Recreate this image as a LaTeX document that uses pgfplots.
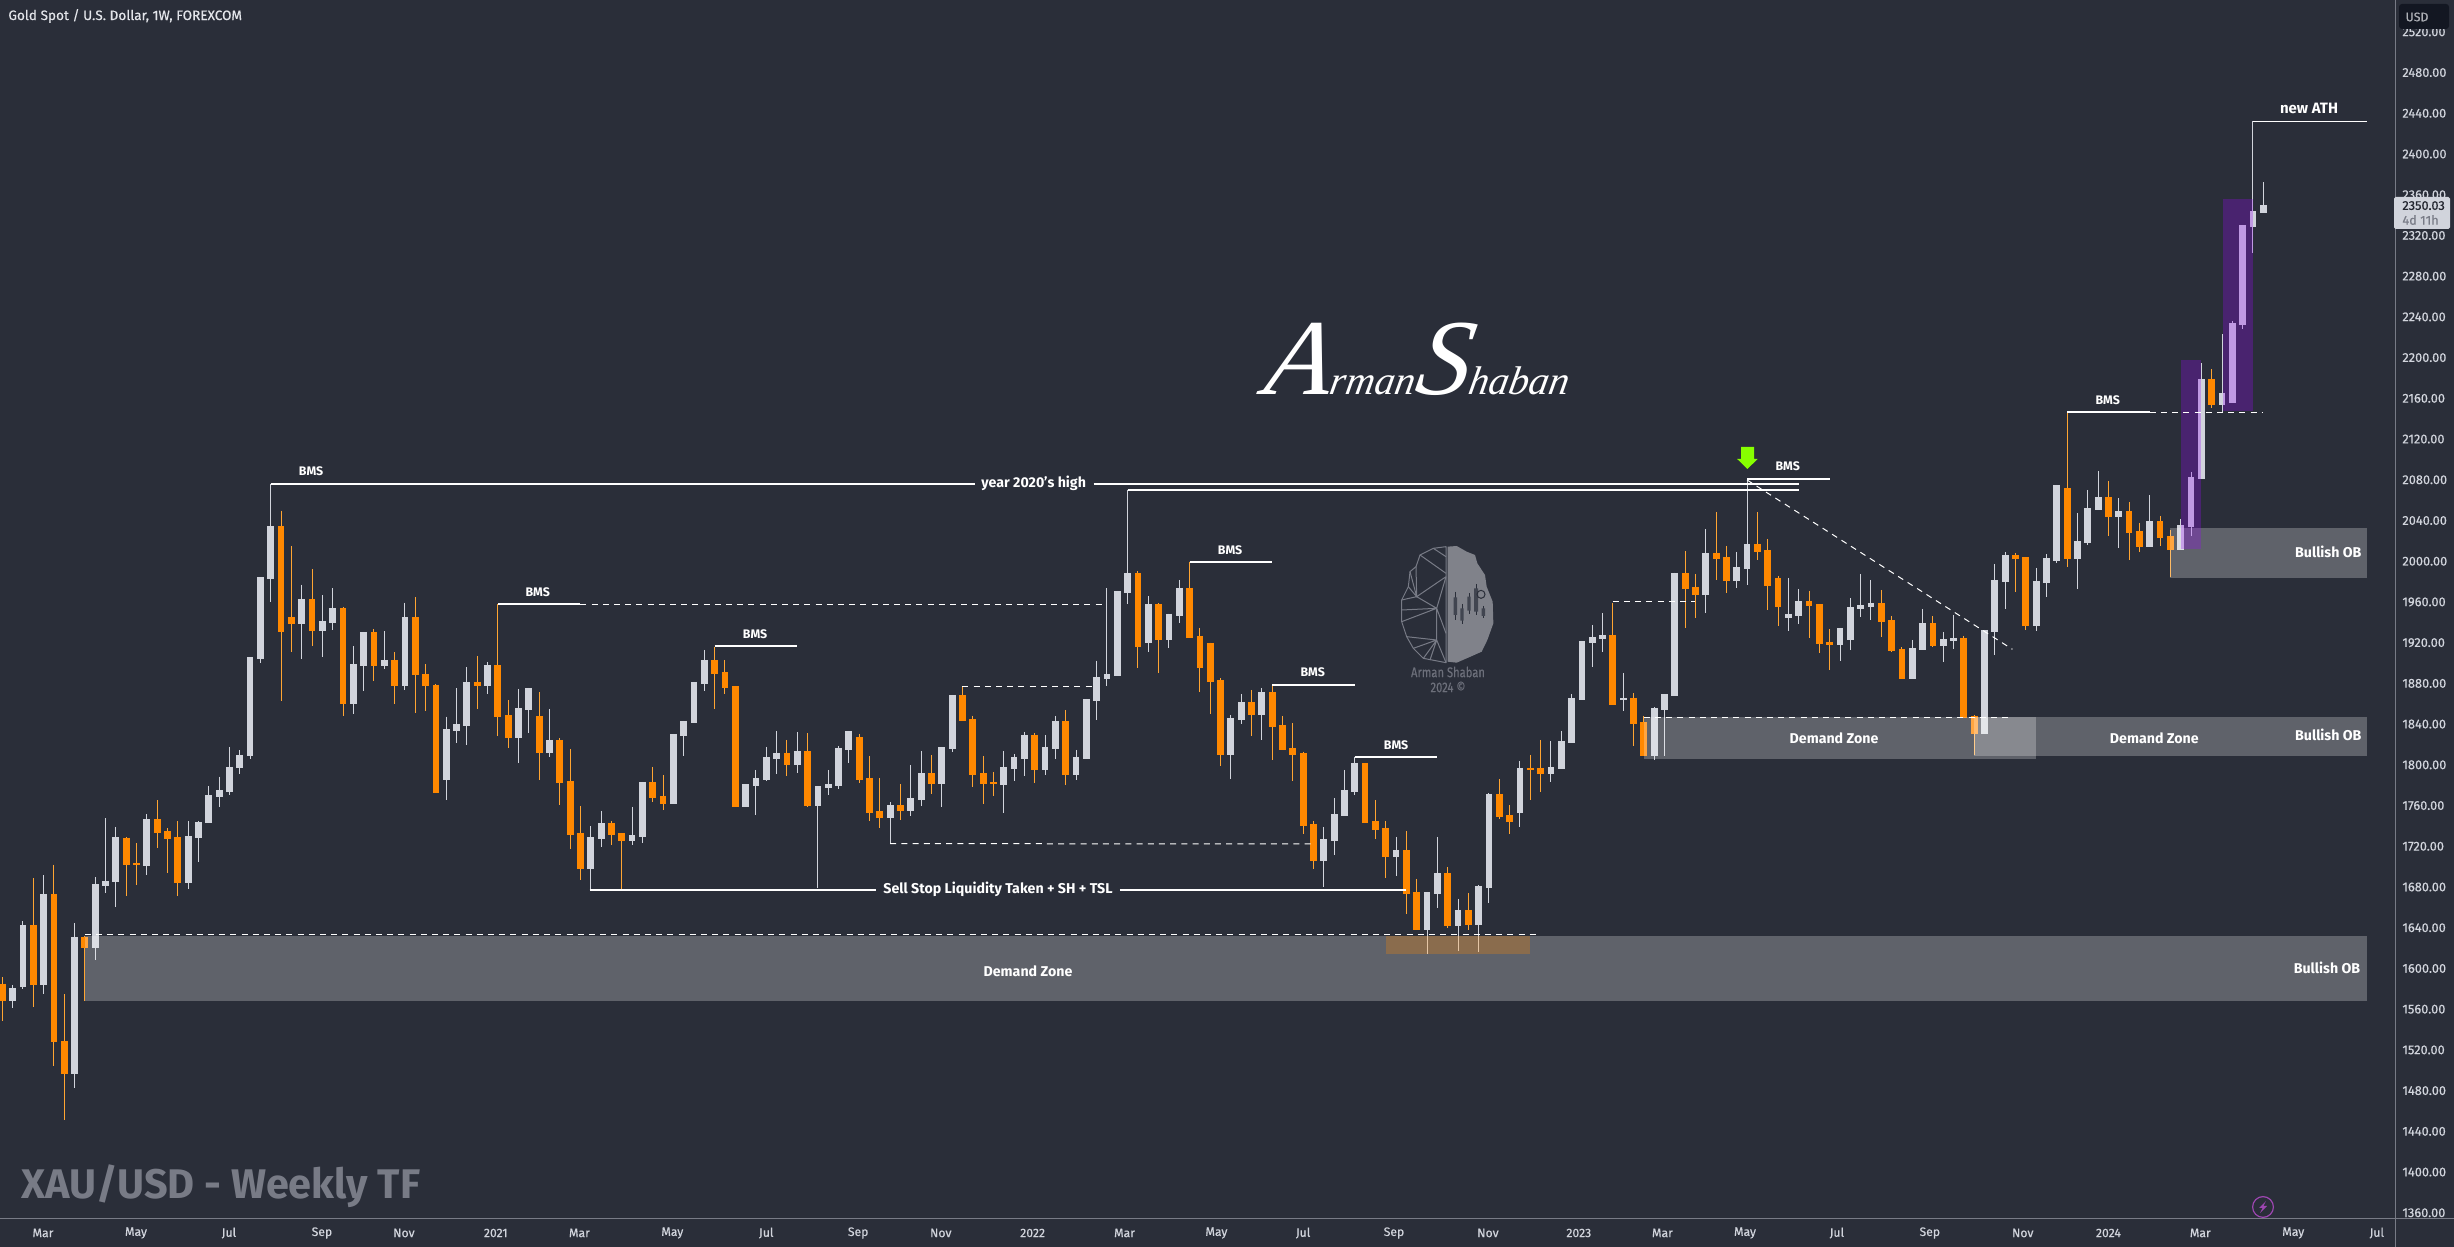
\documentclass[border=0pt]{standalone}
\usepackage{fontspec}
\usepackage{pgfplots}
\usepackage{pgfplotstable}
\pgfplotsset{compat=1.18}
\setmainfont{Fira Sans}[UprightFeatures={RawFeature={embolden=0.5}}]
\newfontfamily\sigfont{Liberation Serif}
\definecolor{bg}{RGB}{42,46,57}
\definecolor{upc}{RGB}{209,212,220}
\definecolor{dnc}{RGB}{255,136,0}
\definecolor{dnw}{RGB}{255,165,50}
\definecolor{axc}{RGB}{120,123,134}
\definecolor{purp}{RGB}{151,9,245}
\definecolor{wm}{RGB}{120,123,134}
\pgfplotstableread{
i h t b l
1 1583.7 1581 1569.3 1561.4
2 1646.3 1642.6 1582.6 1579.9
4 1691.4 1672.8 1585.2 1574.6
7 1644.7 1630.9 1497.7 1482.8
9 1689.8 1682.9 1621.3 1608.6
10 1747.6 1686.1 1681.8 1674.4
11 1739.1 1729.1 1685.5 1660.6
14 1751.4 1746.6 1702 1691.9
18 1744.5 1730.1 1684.5 1677.6
19 1745 1743.9 1729.6 1704.1
20 1778.9 1770.5 1743.4 1743.4
21 1788.5 1775.2 1769.4 1758.3
22 1817.7 1798.1 1774.7 1769.9
23 1814.5 1809.7 1797.5 1790.6
24 1905.8 1905.8 1809.2 1806
25 1984.3 1984.3 1905.3 1900.5
26 2076.1 2034.7 1983.8 1959.9
29 1976.9 1963.1 1939.8 1903.7
31 1966.8 1941.4 1932.9 1906.3
32 1973.7 1954.1 1940.3 1932.9
34 1916.9 1898.9 1861.2 1849.5
35 1930.7 1930.7 1898.4 1872.4
37 1931.3 1903.1 1897.8 1894.6
39 1959.4 1945.1 1878.2 1873.9
43 1847.4 1835.2 1786.4 1765.2
44 1875.2 1840.2 1834.3 1821.8
45 1895.8 1881.1 1839.2 1819.5
47 1901.1 1898.1 1878.5 1869.3
50 1874.5 1855.6 1827.7 1802.2
51 1875.5 1875.5 1855.2 1831.7
53 1854.9 1824.5 1813 1808.1
57 1740 1728.9 1699.1 1677.1
58 1754.7 1742.6 1728.5 1719.7
61 1758.7 1730.8 1726.6 1721.3
62 1783.2 1783.2 1730.2 1723.6
65 1830.4 1830.4 1762.9 1762.9
66 1843.1 1843.1 1829.4 1809.1
67 1881.4 1881.4 1842.5 1842.5
68 1912.9 1903 1880.8 1872.9
72 1780.9 1780.9 1759.6 1759.6
73 1795 1786.8 1780.3 1750.8
74 1817.6 1807.8 1786.2 1784.5
75 1833.3 1811.7 1807.1 1791.4
77 1832.3 1813.3 1800.9 1792.4
79 1779 1779 1760.6 1679.4
80 1795 1780.9 1778.3 1770.4
81 1818.6 1816.6 1780.3 1776.7
82 1833.3 1833.3 1815.6 1802.2
86 1763.6 1760.6 1748.8 1722.6
88 1799.9 1767.2 1755.7 1749.8
89 1813.7 1791.7 1766.5 1760
91 1817.6 1817.3 1782.6 1759
92 1868.7 1868.7 1816.9 1813
97 1813.3 1797.9 1781.2 1753.1
98 1810.7 1807.8 1797.3 1784.5
99 1832.6 1829.4 1806.8 1789.4
101 1829.4 1817.6 1796 1790.1
102 1848 1843.1 1816.6 1805.8
104 1814.6 1807.8 1791.1 1785.2
105 1864.7 1864.7 1807.1 1807.1
106 1902.4 1886.3 1863.7 1844.1
107 1973.4 1889.3 1885.4 1877.5
108 1970.8 1970.8 1888.3 1888.3
109 2070 1988.5 1969.8 1958
111 1965.9 1958 1920.7 1910.9
113 1948.5 1948.5 1923.7 1914.8
114 1981.6 1973.8 1947.2 1939.4
119 1848.7 1846.1 1810.7 1786.2
120 1869.6 1861.8 1845.1 1840.2
122 1875.5 1871.6 1850 1824.5
128 1739 1727.2 1706.6 1680.4
129 1767.5 1751.8 1726.3 1711.5
130 1795 1775.4 1750.8 1750.8
131 1808.1 1801.9 1774.4 1770.4
135 1729.2 1716.4 1710.5 1690.9
138 1675.2 1675.2 1638.8 1614.3
139 1729.2 1693.8 1674.2 1659.5
141 1668.3 1657.5 1642.8 1617.3
143 1681.7 1681.1 1643.7 1616.3
144 1772.1 1771.4 1680.1 1664.4
147 1803.8 1797 1753.7 1739
150 1823.5 1797.9 1792 1783.2
151 1833.3 1823.5 1797 1797
152 1869.6 1865.7 1822.5 1822.5
153 1921.7 1921.7 1864.7 1864.7
154 1937.4 1925.6 1920.7 1896.2
155 1949.2 1927.6 1924.6 1910.9
157 1890.3 1865.7 1864.7 1853.3
160 1856.9 1855.9 1809.7 1804.8
161 1869.6 1869.6 1854.9 1808.7
162 1988.8 1988.5 1868.7 1868.7
165 2031.7 2008.1 1967.9 1949.2
168 2009.1 1994.4 1981.6 1973.8
169 2080.8 2017 1993.4 1976.7
173 1983.6 1948.2 1945.3 1931.5
174 1972.8 1961 1947.2 1938.4
178 1934.5 1934.5 1918.8 1902.1
179 1963.9 1955.1 1923.7 1912.9
180 1987.5 1957.1 1954.1 1945.3
181 1981.6 1959 1956.1 1942.3
185 1922.7 1914.8 1885.3 1884.4
186 1953.1 1939.4 1913.8 1913.8
188 1930.5 1923.6 1917.8 1901.1
189 1947.2 1924.6 1922.7 1913.8
192 1932.5 1932.5 1831.3 1831.3
193 1997.3 1981.6 1931.5 1907.9
194 2009.1 2006.1 1980.6 1953.1
197 1993.4 1980.6 1937.4 1931.5
198 2007.1 2003.2 1979.6 1964.9
199 2074.9 2074.9 2001.2 1998.3
201 2047.4 2019.9 2003.2 1972.8
202 2070 2052.3 2018.9 2016
203 2088.7 2063.1 2051.3 2051.3
205 2062.1 2049.4 2044.5 2013
208 2065.1 2039.5 2015 2015
211 2041.5 2035.6 2012 2012
212 2087.7 2082.8 2034.6 2024.8
213 2194.7 2179 2081.8 2080.8
215 2223.2 2165.3 2154.5 2146.3
216 2236 2234 2156.4 2156.4
217 2330.3 2330.3 2233 2228.1
218 2432.1 2344 2329.3 2302.8
219 2372.5 2349.9 2343 2343
}\upT
\pgfplotstableread{
i h t b l
0 1591.6 1585.2 1569.3 1548.1
3 1688.7 1642.6 1585.2 1562.4
5 1702 1672.8 1529 1504.6
6 1574.6 1529 1497.7 1451.5
8 1632 1631 1621.3 1567.7
12 1729.1 1728.5 1703.1 1670.7
13 1723.2 1703.6 1702.5 1682.4
15 1765.2 1746.6 1734.4 1717.9
16 1737.6 1734.9 1728.5 1694
17 1744.5 1729.1 1684.5 1670.7
27 2049.6 2034.7 1931.8 1862.8
28 2015.1 1945.1 1939.8 1911.1
30 1992.3 1963.1 1932.9 1916.9
33 1955.1 1954.1 1861.2 1847.9
36 1933.4 1930.7 1897.8 1882.4
38 1910.6 1903.1 1878.2 1860.1
40 1964.7 1945.1 1888.8 1850.6
41 1898.9 1889.3 1878.7 1853.2
42 1879.3 1878.7 1773.6 1773.6
46 1907 1881.1 1878.8 1855.2
48 1958 1897.8 1848.4 1828.7
49 1863.7 1848.7 1827.7 1816.9
52 1871.3 1848 1813 1785.2
54 1826.1 1824.5 1783.5 1760.9
55 1815.6 1783.9 1732.5 1717.7
56 1759.6 1732.8 1699.1 1687.3
59 1744.9 1742.6 1732.5 1721.3
60 1733.1 1732.8 1726.6 1677.8
63 1797.9 1782.9 1768.8 1763.9
64 1790.1 1769.1 1762.9 1755.7
69 1916.1 1902.7 1890.6 1855.2
70 1903 1890.9 1876.8 1870
71 1877.5 1877.2 1759.6 1759.6
76 1824.5 1811.4 1801.2 1789.4
78 1831 1813.3 1760.6 1759
83 1830 1827.1 1786.5 1782.6
84 1808.7 1786.8 1754.1 1745.2
85 1787.1 1754.4 1749.2 1738.4
87 1780.9 1760.3 1756 1746.2
90 1809.7 1791.7 1782.6 1771.4
93 1877.5 1868.3 1844.1 1843.4
94 1848.4 1844.8 1791.4 1778.6
95 1808.7 1791.7 1782.6 1761.6
96 1793 1783.2 1782.6 1769.5
100 1831 1829.4 1796 1782.6
103 1853.9 1843.1 1791.4 1780.6
110 1990.1 1988.5 1917.1 1895.2
112 1958.7 1958 1923.7 1890.6
115 1999.3 1973.8 1926 1926
116 1934.5 1926.6 1896.5 1871.6
117 1920.1 1919.7 1882.7 1850
118 1885 1883.4 1810.7 1798.9
121 1873.6 1861.8 1850 1828.4
123 1878.5 1871.6 1838.2 1804.8
124 1848 1839.2 1815.6 1815.6
125 1841.2 1816.6 1810.7 1784.2
126 1813 1811.7 1741 1732.1
127 1744.9 1742 1706.6 1697.8
132 1801.9 1801.9 1744.3 1744.3
133 1765.5 1744.9 1737 1727.2
134 1744.9 1738 1710.5 1688.9
136 1735.1 1716.4 1674.2 1653.6
137 1687.9 1675.2 1638.8 1638.8
140 1699.7 1693.8 1642.8 1639.8
142 1674.2 1657.5 1643.7 1637.8
145 1786.2 1771.4 1749.8 1746.9
146 1760.6 1750.8 1744.9 1732.1
148 1809.7 1797 1796 1765.5
149 1824.5 1797 1792 1773.4
156 1959 1927.6 1859.8 1859.8
158 1870.3 1865.7 1841.2 1818.6
159 1848 1842.1 1809.7 1809.7
163 2010.1 1988.5 1973.8 1934.5
164 1987.5 1974.7 1967.9 1944.3
166 2048.4 2008.1 2003.2 1981.6
167 2015 2004.2 1981.6 1968.8
170 2048.4 2017 2010.1 2001.3
171 2021.9 2011.1 1976.7 1952.1
172 1985.5 1983.6 1956.1 1936.4
175 1970.8 1961 1957.1 1924.6
176 1958 1958 1919.7 1909.9
177 1933.5 1920.7 1918.8 1893.2
182 1971.8 1959 1941.3 1925.6
183 1946.3 1942.3 1912.9 1910.9
184 1915.5 1913.8 1885.3 1884.4
187 1946.2 1939.4 1917.8 1915.8
190 1926.6 1924.6 1847 1847
191 1849 1848 1831.3 1809.7
195 2008.1 2006.1 2003.2 1969.8
196 2004.2 2003.9 1937.4 1932.5
200 2146.6 2072 2003.2 1994.4
204 2078.8 2063.1 2044.5 2024.8
206 2058.2 2049.4 2028.7 2001.2
207 2037.6 2029.7 2015 2009.1
209 2044.5 2039.5 2023.8 2015
210 2030.7 2024.8 2012 1984.5
214 2188.8 2179 2154.5 2150.5
}\dnT
\newcommand\T[4][]{\node[lab,#1] at ({#2*0.5pt},{(1247-#3)*0.5pt}) {#4};}
\newcommand\TL[3]{\node[lab,font=\fontsize{7.1pt}{8pt}\selectfont\bfseries] at ({#1*0.5pt},{(1247-#2)*0.5pt}) {#3};}
\tikzset{lab/.style={inner sep=0pt,anchor=center,text=white,font=\fontsize{6.2pt}{7pt}\selectfont\bfseries},
 sl/.style={white,line width=1pt},
 dl/.style={white,line width=0.5pt,dash pattern=on 3pt off 2.6pt}}
\begin{document}
\begin{tikzpicture}
\useasboundingbox (0,0) rectangle (1227pt,623.5pt);
\fill[bg] (0,0) rectangle (1227pt,623.5pt);
\begin{axis}[at={(0pt,14pt)},anchor=south west,scale only axis,
 width=1197.5pt,height=609.5pt,
 xmin=-0.223,xmax=231.76,ymin=1353.9,ymax=2551.3,
 axis x line=bottom,axis y line=right,
 x axis line style={-,draw=axc,line width=0.5pt},
 y axis line style={-,draw=axc,line width=0.5pt},
 major tick length=0pt,
 ytick={1360,1400,...,2520},
 xtick={3.94,12.95,21.96,30.96,38.9,47.8,55.9,64.9,74,82.9,90.9,99.8,108.7,117.6,126,134.8,143.9,152.7,160.8,168.8,177.7,186.7,195.7,204,212.9,221.9,230},
 xticklabels={Mar,May,Jul,Sep,Nov,2021,Mar,May,Jul,Sep,Nov,2022,Mar,May,Jul,Sep,Nov,2023,Mar,May,Jul,Sep,Nov,2024,Mar,May,Jul},
 /pgf/number format/fixed,/pgf/number format/fixed zerofill,/pgf/number format/precision=2,/pgf/number format/1000 sep={},/pgf/number format/assume math mode=true,
 y tick label style={anchor=west,inner sep=0pt,xshift=3.5pt,text=upc,font=\fontsize{6.4pt}{7pt}\selectfont},
 x tick label style={anchor=center,inner sep=0pt,yshift=-7pt,text=upc,font=\fontsize{6.1pt}{7pt}\selectfont},
 every axis plot/.append style={forget plot},
]
% wicks and bodies
\addplot[draw=none,mark=none,error bars/.cd,y dir=minus,y explicit,error mark=none,error bar style={draw=upc,line width=0.5pt}]
 table[x=i,y=h,y error minus expr=\thisrow{h}-\thisrow{l}]{\upT};
\addplot[draw=none,mark=none,error bars/.cd,y dir=minus,y explicit,error mark=none,error bar style={draw=dnw,line width=0.5pt}]
 table[x=i,y=h,y error minus expr=\thisrow{h}-\thisrow{l}]{\dnT};
\addplot[draw=none,mark=none,error bars/.cd,y dir=minus,y explicit,error mark=none,error bar style={draw=upc,line width=3.4pt}]
 table[x=i,y=t,y error minus expr=\thisrow{t}-\thisrow{b}+1]{\upT};
\addplot[draw=none,mark=none,error bars/.cd,y dir=minus,y explicit,error mark=none,error bar style={draw=dnc,line width=3.4pt}]
 table[x=i,y=t,y error minus expr=\thisrow{t}-\thisrow{b}+1]{\dnT};
% zones
\addplot[fill=white,fill opacity=.25,draw=none] coordinates {(8,1632)(229,1632)(229,1567.7)(8,1567.7)} -- cycle;
\addplot[fill=white,fill opacity=.25,draw=none] coordinates {(210,2032.7)(229,2032.7)(229,1983.6)(210,1983.6)} -- cycle;
\addplot[fill=white,fill opacity=.25,draw=none] coordinates {(159,1846.7)(197,1846.7)(197,1806.1)(159,1806.1)} -- cycle;
\addplot[fill=white,fill opacity=.25,draw=none] coordinates {(191,1847)(229,1847)(229,1809)(191,1809)} -- cycle;
\addplot[fill=dnc,fill opacity=.27,draw=none] coordinates {(134,1632)(148,1632)(148,1614.6)(134,1614.6)} -- cycle;
\addplot[fill=purp,fill opacity=.29,draw=none] coordinates {(211,2197.7)(213,2197.7)(213,2012)(211,2012)} -- cycle;
\addplot[fill=purp,fill opacity=.29,draw=none] coordinates {(215.1,2356.1)(218.05,2356.1)(218.05,2147.3)(215.1,2147.3)} -- cycle;
% annotation lines
\draw[sl] (axis cs:26,2076.2)--(axis cs:94.2,2076.2);
\draw[sl] (axis cs:105.7,2076.2)--(axis cs:174,2076.2);
\draw[sl] (axis cs:109,2070.3)--(axis cs:174,2070.3);
\draw[sl] (axis cs:48,1958)--(axis cs:56,1958);
\draw[dl] (axis cs:56,1957.8)--(axis cs:106.65,1957.8);
\draw[sl] (axis cs:69,1916.8)--(axis cs:77,1916.8);
\draw[sl] (axis cs:56.9,1677.1)--(axis cs:84.6,1677.1);
\draw[sl] (axis cs:108.25,1677.1)--(axis cs:136,1677.1);
\draw[dl] (axis cs:86,1722.6)--(axis cs:126.9,1722.3);
\draw[dl] (axis cs:93,1877.2)--(axis cs:105.9,1877.2);
\draw[sl] (axis cs:115,1999.3)--(axis cs:123,1999.3);
\draw[sl] (axis cs:123,1878.5)--(axis cs:131,1878.5);
\draw[sl] (axis cs:131,1808.1)--(axis cs:139,1808.1);
\draw[dl] (axis cs:8,1632.9)--(axis cs:148.9,1632.9);
\draw[dl] (axis cs:156,1960.7)--(axis cs:164,1960.7);
\draw[dl] (axis cs:159,1846.7)--(axis cs:194.7,1846.7);
\draw[dl] (axis cs:169,2079.8)--(axis cs:194.7,1913.5);
\draw[sl] (axis cs:169,2080.8)--(axis cs:177,2080.8);
\draw[sl] (axis cs:200,2146.6)--(axis cs:208,2146.6);
\draw[dl] (axis cs:208,2146.3)--(axis cs:219,2146.3);
\draw[white,line width=0.6pt] (axis cs:218,2432.1)--(axis cs:229,2432.1);
\end{axis}
% extensions of the scale lines
\draw[axc,line width=0.5pt] (1197.5pt,0)--(1197.5pt,623.5pt);
\draw[axc,line width=0.5pt] (0,14pt)--(1227pt,14pt);
% USD box
\fill[fill={rgb,255:red,19;green,23;blue,34},rounded corners=1.5pt] (1199.5pt,609pt) rectangle (1224.5pt,621.5pt);
\node[inner sep=0,text=axc!60!white,font=\fontsize{6.2pt}{7pt}\selectfont] at (1208.5pt,615pt) {USD};
% price box
\fill[upc,rounded corners=0.8pt] (1197pt,509pt) rectangle (1225pt,525pt);
\node[inner sep=0,anchor=west,text=bg!80!black,font=\fontsize{6.4pt}{7pt}\selectfont] at (1201pt,520.7pt) {2350.03};
\node[inner sep=0,anchor=west,text=axc,font=\fontsize{6.4pt}{7pt}\selectfont] at (1201pt,513.5pt) {4d 11h};
% title
\node[inner sep=0,anchor=west,text=upc!60!white,font=\fontsize{6.8pt}{8pt}\selectfont] at (4pt,615.5pt) {Gold Spot / U.S. Dollar, 1W, FOREXCOM};
\T{311}{471}{BMS}
\T{537.7}{592.3}{BMS}
\T{755}{634.3}{BMS}
\T{1230}{550}{BMS}
\T{1312.7}{672.3}{BMS}
\T{1396}{745}{BMS}
\T{1787.7}{466}{BMS}
\T{2107.7}{400}{BMS}
\node[lab,font=\fontsize{7.5pt}{8pt}\selectfont\bfseries] at (1154.5pt,569.3pt) {new ATH};
\TL{1033.7}{483.3}{year 2020's high}
\TL{998}{889.3}{Sell Stop Liquidity Taken + SH + TSL}
\TL{1028}{971}{Demand Zone}
\TL{1834}{738}{Demand Zone}
\TL{2154.3}{738.3}{Demand Zone}
\TL{2328.3}{552}{Bullish OB}
\TL{2328.3}{735}{Bullish OB}
\TL{2327}{968}{Bullish OB}
% watermark
\node[inner sep=0,anchor=west,text=wm,font=\fontsize{20.7pt}{22pt}\selectfont\bfseries] at (10.5pt,30.5pt) {XAU/USD - Weekly TF};
% green arrow
\fill[fill={rgb,255:red,135;green,255;blue,0}] (870.6pt,400pt)--(877pt,400pt)--(877pt,394pt)--(878.8pt,394pt)--(873.7pt,389pt)--(868.6pt,394pt)--(870.6pt,394pt)--cycle;
% signature
\node[inner sep=0,anchor=base,text=white,font=\sigfont\itshape,xslant=0.18,transform shape] at (707.5pt,426pt) {\fontsize{54pt}{54pt}\selectfont A\fontsize{20pt}{20pt}\selectfont rman\fontsize{54pt}{54pt}\selectfont S\fontsize{20pt}{20pt}\selectfont haban};
% logo
\begin{scope}[shift={(600pt,473.5pt)},x=0.16667pt,y=-0.16667pt]
\fill[fill={rgb,255:red,128;green,130;blue,138}] (743,740)--(770,738)--(800,755)--(825,765)--(832,790)--(855,825)--(860,860)--(878,905)--(880,970)--(862,1020)--(845,1055)--(800,1075)--(770,1088)--(743,1085)--cycle;
\draw[wm,line width=0.5pt,line join=round] (738,740)--(700,745)--(660,765)--(648,800)--(630,815)--(625,860)--(605,900)--(605,965)--(620,1010)--(640,1045)--(670,1075)--(738,1088)--cycle;
\draw[wm,line width=0.5pt] (660,765)--(738,820) (700,745)--(738,770) (648,800)--(650,890)--(738,830) (630,815)--(650,890)--(605,900) (650,890)--(710,925)--(738,830) (605,930)--(710,925) (605,965)--(710,925) (620,1010)--(710,1020)--(710,925) (710,1020)--(738,1088) (710,1020)--(640,1045) (710,1020)--(670,1075) (710,1020)--(690,1080) (650,890)--(625,860) (710,925)--(738,1000);
\draw[bg,line width=0.5pt] (766,875)--(766,960) (786,912)--(786,972) (807,880)--(807,942) (828,852)--(828,945) (850,918)--(850,955);
\fill[bg!70!wm] (761,892) rectangle (771,945) (781,925) rectangle (791,962) (802,890) rectangle (812,932) (822,865) rectangle (834,935) (845,925) rectangle (855,948);
\draw[bg,line width=0.5pt] (843,883) circle (12);
\end{scope}
\node[inner sep=0,text=wm!85!bg,font=\fontsize{7pt}{8pt}\selectfont] at (724pt,287.5pt) {\scalebox{.8}[1]{Arman Shaban}};
\node[inner sep=0,text=wm!85!bg,font=\fontsize{7pt}{8pt}\selectfont] at (724pt,280pt) {\scalebox{.8}[1]{2024 ©}};
% lightning badge
\draw[draw={rgb,255:red,156;green,70;blue,176},line width=0.6pt] (1131.5pt,20pt) circle (5.2pt);
\fill[fill={rgb,255:red,156;green,70;blue,176}] (1133pt,23pt)--(1129.5pt,19.5pt)--(1131.3pt,19.5pt)--(1130pt,17pt)--(1133.5pt,20.5pt)--(1131.7pt,20.5pt)--cycle;
\end{tikzpicture}
\end{document}
